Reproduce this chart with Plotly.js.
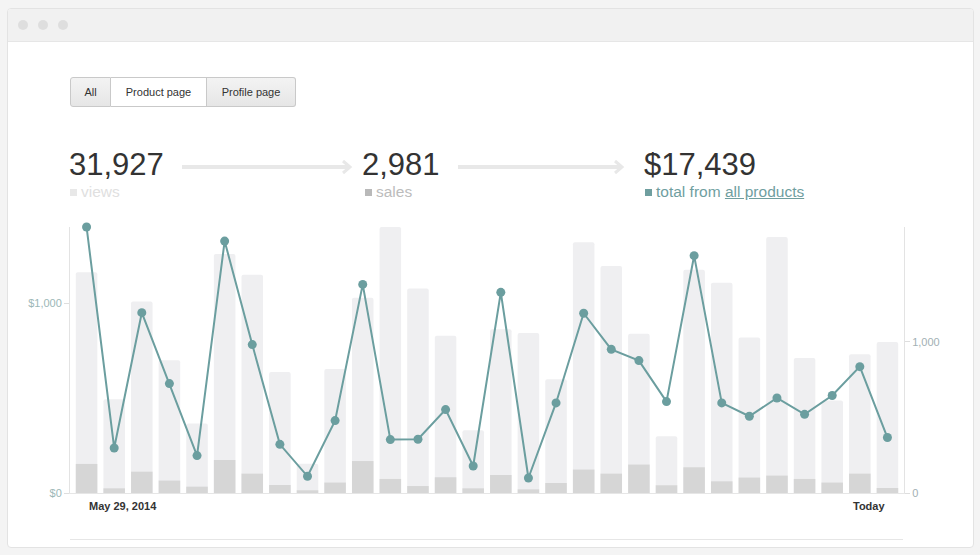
<!DOCTYPE html>
<html>
<head>
<meta charset="utf-8">
<script src="https://cdn.plot.ly/plotly-3.0.1.min.js"></script>
<style>
  html, body { margin: 0; padding: 0; }
  body { width: 980px; height: 555px; background: #f4f4f4; position: relative; overflow: hidden;
         font-family: "Liberation Sans", Arial, Helvetica, sans-serif; }
  #win { position: absolute; left: 7px; top: 8px; width: 967px; height: 540px; background: #fff;
         border: 1px solid #e3e3e3; border-radius: 4px; box-sizing: border-box; overflow: hidden; }
  #bar { position: absolute; left: 0; top: 0; right: 0; height: 32px; background: #f1f1f1; border-bottom: 1px solid #e6e6e6; }
  .dot { position: absolute; top: 11px; width: 10px; height: 10px; border-radius: 50%; background: #dedede; }
  #chart { position: absolute; left: 0; top: 0; width: 980px; height: 555px; }
  .btns { position: absolute; left: 70px; top: 77px; height: 30px; display: flex; }
  .btn { height: 30px; box-sizing: border-box; border: 1px solid #c9c9c9; font-size: 11px; color: #333;
         line-height: 28px; text-align: center; background: linear-gradient(#f3f3f3, #e6e6e6); }
  .btn.l { border-radius: 3px 0 0 3px; }
  .btn.r { border-radius: 0 3px 3px 0; border-left: none; }
  .btn.m { background: #fff; border-left: none; }
  .big { position: absolute; top: 152px; font-size: 31px; line-height: 26px; height: 26px; color: #333; }
  .lab { position: absolute; top: 184px; font-size: 15.5px; line-height: 15px; height: 15px; white-space: nowrap; }
  .sq { display: inline-block; width: 7px; height: 7px; margin-right: 4px; vertical-align: 1px; }
  svg.arrow { position: absolute; }
  #hr { position: absolute; left: 70px; top: 539px; width: 833px; height: 1px; background: #e6e6e6; }
</style>
</head>
<body>
<div id="win">
  <div id="bar">
    <div class="dot" style="left:10px"></div>
    <div class="dot" style="left:30px"></div>
    <div class="dot" style="left:50px"></div>
  </div>
</div>
<div id="hr"></div>
<div class="btns">
  <div class="btn l" style="width:41px">All</div>
  <div class="btn m" style="width:96px">Product page</div>
  <div class="btn r" style="width:89px">Profile page</div>
</div>
<div class="big" style="left:69px">31,927</div>
<div class="big" style="left:362px">2,981</div>
<div class="big" style="left:644px">$17,439</div>
<div class="lab" style="left:70px;color:#e0e0e0"><span class="sq" style="background:#e8e8e8"></span>views</div>
<div class="lab" style="left:365px;color:#bcbcbc"><span class="sq" style="background:#b9b9b9"></span>sales</div>
<div class="lab" style="left:645px;color:#6f9e9f"><span class="sq" style="background:#6f9e9f"></span>total from <span style="text-decoration:underline">all products</span></div>
<svg class="arrow" style="left:180px;top:158px" width="175" height="18">
  <line x1="2" y1="9" x2="168" y2="9" stroke="#e8e8e8" stroke-width="4"/>
  <polyline points="163,3 170,9 163,15" fill="none" stroke="#e8e8e8" stroke-width="3"/>
</svg>
<svg class="arrow" style="left:456px;top:158px" width="175" height="18">
  <line x1="2" y1="9" x2="164" y2="9" stroke="#e8e8e8" stroke-width="4"/>
  <polyline points="159,3 166,9 159,15" fill="none" stroke="#e8e8e8" stroke-width="3"/>
</svg>
<div id="chart"></div>
<script>
const days = ["2014-05-29","2014-05-30","2014-05-31","2014-06-01","2014-06-02","2014-06-03","2014-06-04","2014-06-05","2014-06-06","2014-06-07",
              "2014-06-08","2014-06-09","2014-06-10","2014-06-11","2014-06-12","2014-06-13","2014-06-14","2014-06-15","2014-06-16","2014-06-17",
              "2014-06-18","2014-06-19","2014-06-20","2014-06-21","2014-06-22","2014-06-23","2014-06-24","2014-06-25","2014-06-26","2014-06-27"];
const views = [1459, 619, 1265, 877, 459, 1580, 1443, 800, 194, 820,
               1291, 1758, 1351, 1040, 414, 1082, 1057, 751, 1657, 1500,
               1053, 375, 1476, 1390, 1027, 1692, 892, 611, 917, 998];
const sales = [192, 31, 141, 82, 42, 218, 128, 53, 18, 69,
               211, 93, 46, 104, 31, 119, 24, 66, 155, 128,
               188, 51, 170, 77, 102, 115, 93, 69, 128, 33];
const revenue = [1400, 237, 949, 576, 197, 1326, 781, 256, 88, 381,
                 1098, 281, 283, 439, 142, 1056, 79, 474, 946, 756,
                 697, 481, 1249, 474, 404, 500, 414, 513, 665, 292];
const countTicks = [0, 1000];
const countTickText = ["0", "1,000"];
const moneyTicks = [0, 1000];
const moneyTickText = ["$0", "$1,000"];
const xLabels = ["May 29, 2014", "Today"];

const font = '"Liberation Sans", Arial, Helvetica, sans-serif';
const traces = [
  { type: 'bar', x: days, y: views, yaxis: 'y', width: 0.78,
    marker: { color: '#efeff1', cornerradius: 2 }, hoverinfo: 'skip' },
  { type: 'bar', x: days, y: sales, yaxis: 'y', width: 0.78,
    marker: { color: '#d6d6d6' }, hoverinfo: 'skip' },
  { type: 'scatter', mode: 'lines+markers', x: days, y: revenue, yaxis: 'y2', cliponaxis: false,
    line: { color: '#6b9e9f', width: 2 }, marker: { color: '#6b9e9f', size: 9 } }
];
const layout = {
  width: 980, height: 555,
  margin: { l: 70, r: 76, t: 227, b: 62, pad: 0 },
  paper_bgcolor: 'rgba(0,0,0,0)', plot_bgcolor: 'rgba(0,0,0,0)',
  showlegend: false, barmode: 'overlay',
  font: { family: font },
  xaxis: { type: 'category', range: [-0.6, 29.6], showticklabels: false, ticks: '',
           showgrid: false, zeroline: false, showline: true, linecolor: '#e6e6e6', linewidth: 1 },
  yaxis: { side: 'right', range: [0, 1758], tickvals: countTicks, ticktext: countTickText,
           ticks: 'outside', ticklen: 5, tickcolor: '#dedede', showgrid: false, zeroline: false,
           showline: true, linecolor: '#e3e3e3', tickfont: { size: 11, color: '#a2b0b4' } },
  yaxis2: { overlaying: 'y', side: 'left', range: [0, 1400], tickvals: moneyTicks, ticktext: moneyTickText,
            ticks: 'outside', ticklen: 5, tickcolor: '#dedede', showgrid: false, zeroline: false,
            showline: true, linecolor: '#e3e3e3', tickfont: { size: 11, color: '#9cb7b7' } },
  annotations: [
    { x: days[0], y: -0.049, xref: 'x', yref: 'paper', xanchor: 'left', yanchor: 'middle', showarrow: false,
      text: '<b>' + xLabels[0] + '</b>', font: { size: 11, color: '#333' } },
    { x: days[days.length - 1], y: -0.049, xref: 'x', yref: 'paper', xanchor: 'right', yanchor: 'middle', showarrow: false,
      text: '<b>' + xLabels[1] + '</b>', font: { size: 11, color: '#333' } }
  ]
};
Plotly.newPlot('chart', traces, layout, { staticPlot: true, displayModeBar: false });
</script>
</body>
</html>
